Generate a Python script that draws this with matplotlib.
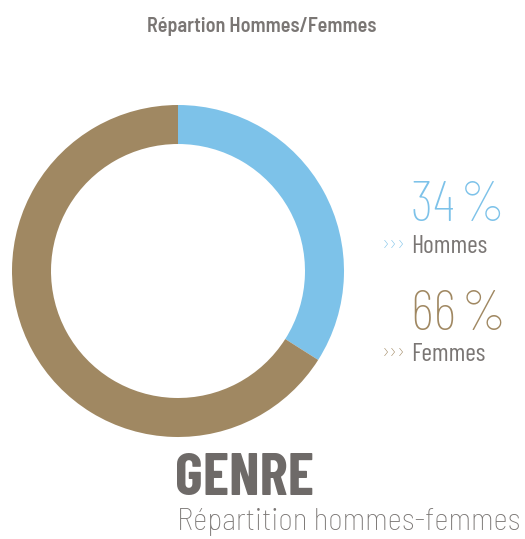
import matplotlib
matplotlib.use("Agg")
import matplotlib.pyplot as plt

categories = ["Hommes", "Femmes"]
values = [34, 66]
colors = ["#7DC2E9", "#A08862"]
title = "Répartion Hommes/Femmes"
big_title = "GENRE"
subtitle = "Répartition hommes-femmes"

COND = "Barlow Condensed"
SEMI = "Barlow Semi Condensed"

W, H = 525, 539
fig = plt.figure(figsize=(W / 100, H / 100), dpi=100)
fig.patch.set_facecolor("white")

cx, cy, R = 178, 271, 166
ax = fig.add_axes([(cx - R) / W, (H - cy - R) / H, 2 * R / W, 2 * R / H])
ax.pie(values, colors=colors, startangle=90, counterclock=False, radius=1,
       wedgeprops=dict(width=0.235, linewidth=0))
ax.set_xlim(-1, 1)
ax.set_ylim(-1, 1)
ax.set_aspect("equal")
ax.axis("off")

gray = "#7A7674"
fig.text(262 / W, 1 - 32 / H, title, ha="center", va="baseline", fontsize=14.5,
         fontweight="semibold", color=gray, family=SEMI)

ys_pct = [221, 330]
ys_lab = [253, 361]
for i, (cat, v, c) in enumerate(zip(categories, values, colors)):
    fig.text(411 / W, 1 - ys_pct[i] / H, f"{v}\u200a%", ha="left", va="baseline",
             fontsize=41, fontweight="light", color=c, family=[COND, "DejaVu Sans"])
    fig.text(382 / W, 1 - (ys_lab[i] - 2) / H, "›››", ha="left", va="baseline",
             fontsize=17, fontweight="light", color=c, family=COND)
    fig.text(411 / W, 1 - ys_lab[i] / H, cat, ha="left", va="baseline",
             fontsize=18.5, fontweight="normal", color=gray, family=COND)

fig.text(175 / W, 1 - 495 / H, big_title, ha="left", va="baseline", fontsize=43,
         fontweight="bold", color="#6E6A68", family=COND)
fig.text(177 / W, 1 - 530 / H, subtitle, ha="left", va="baseline", fontsize=22.3,
         fontweight="light", color=gray, family=SEMI)

fig.savefig("out.png", dpi=100, facecolor="white")
